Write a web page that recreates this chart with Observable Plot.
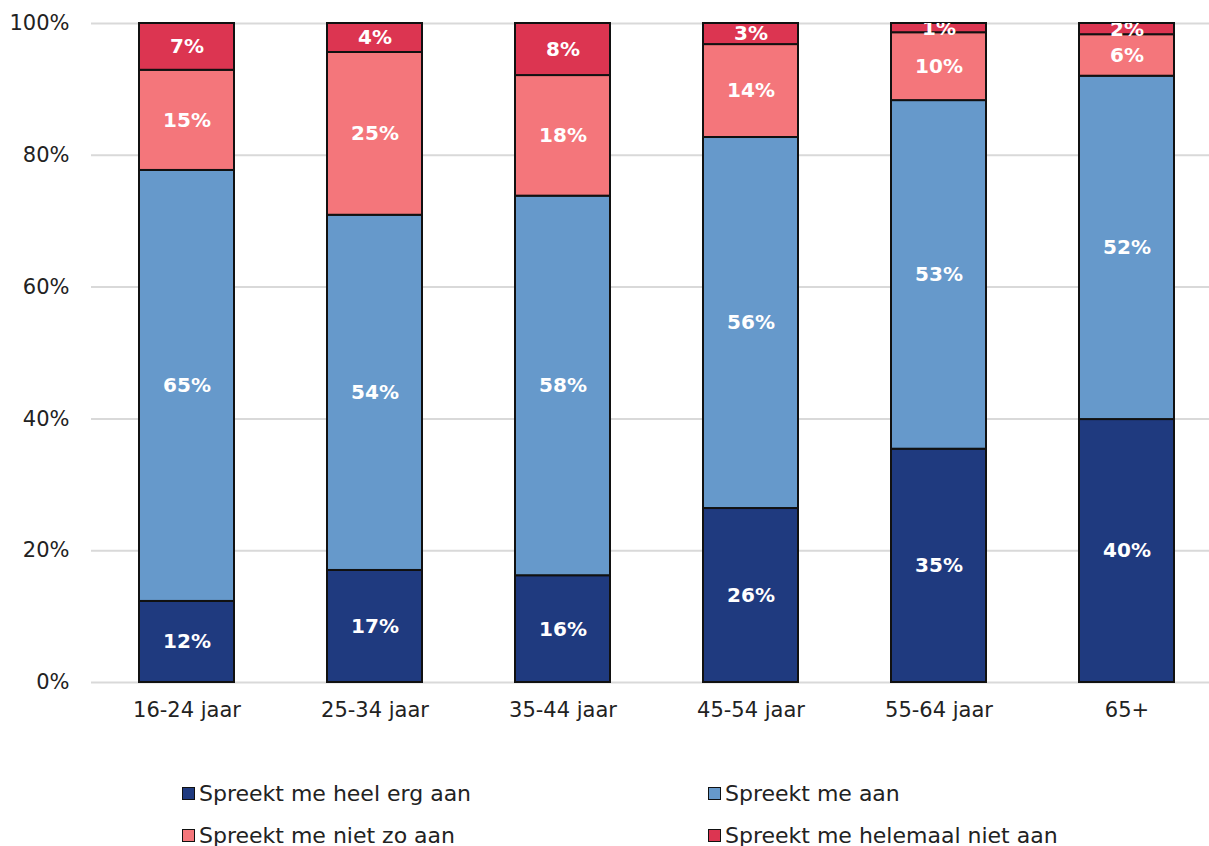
<!DOCTYPE html>
<html>
<head>
<meta charset="utf-8">
<script src="https://cdn.jsdelivr.net/npm/d3@7"></script>
<script src="https://cdn.jsdelivr.net/npm/@observablehq/plot@0.6"></script>
<style>
  html, body { margin: 0; padding: 0; background: #fff; }
  body { width: 1209px; height: 846px; overflow: hidden; font-family: "DejaVu Sans", sans-serif; }
  #chart svg { display: block; }
  #legend { position: relative; height: 106px; }
  .item { position: absolute; display: flex; align-items: center; font-size: 22px; color: #222; white-space: nowrap; }
  .sw { width: 11px; height: 11px; border: 1.5px solid #111; margin-right: 4px; }
</style>
</head>
<body>
<div id="chart"></div>
<div id="legend"></div>
<script>
const ages = ["16-24 jaar", "25-34 jaar", "35-44 jaar", "45-54 jaar", "55-64 jaar", "65+"];
const seriesNames = ["Spreekt me heel erg aan", "Spreekt me aan", "Spreekt me niet zo aan", "Spreekt me helemaal niet aan"];
const seriesColors = ["#1f3a7f", "#6699cb", "#f4767b", "#dc3551"];
const heelErg = [12.3, 17.0, 16.2, 26.4, 35.4, 39.9];
const aan = [65.4, 53.9, 57.6, 56.3, 52.9, 52.1];
const nietZo = [15.2, 24.7, 18.3, 14.1, 10.3, 6.3];
const helemaalNiet = [7.1, 4.4, 7.9, 3.2, 1.4, 1.7];
const yTicks = [0, 20, 40, 60, 80, 100];

const seriesValues = [heelErg, aan, nietZo, helemaalNiet];
const data = [];
seriesNames.forEach((s, si) => {
  ages.forEach((a, ai) => data.push({age: a, series: s, value: seriesValues[si][ai]}));
});

const W = 1209, H = 742;
const chart = Plot.plot({
  width: W,
  height: H,
  marginTop: 23,
  marginBottom: H - 682,
  marginLeft: 91,
  marginRight: 0,
  style: {fontFamily: "DejaVu Sans, sans-serif", fontSize: "21px", color: "#222", background: "#fff"},
  x: {domain: ages, range: [91, 1222.6], paddingInner: 0.496, paddingOuter: 0.248, label: null, tickSize: 0, tickPadding: 20},
  y: {domain: [0, 100], ticks: yTicks, tickFormat: d => d + "%", label: null, tickSize: 0, tickPadding: 22},
  color: {domain: seriesNames, range: seriesColors},
  marks: [
    Plot.ruleY(yTicks, {stroke: "#d9d9d9", strokeWidth: 2}),
    Plot.barY(data, {x: "age", y: "value", fill: "series", stroke: "#111", strokeWidth: 2, order: seriesNames}),
    Plot.text(data, Plot.stackY({x: "age", y: "value", z: "series", order: seriesNames,
      text: d => Math.round(d.value) + "%", fill: "white", fontWeight: "bold", fontSize: 20, clip: true}))
  ]
});
document.getElementById("chart").appendChild(chart);

const legend = document.getElementById("legend");
const pos = [[182, 793], [708, 793], [182, 835], [708, 835]];
seriesNames.forEach((s, i) => {
  const it = document.createElement("div");
  it.className = "item";
  it.style.left = pos[i][0] + "px";
  it.style.top = (pos[i][1] - H - 13) + "px";
  it.style.height = "26px";
  const sw = document.createElement("span");
  sw.className = "sw";
  sw.style.background = seriesColors[i];
  const tx = document.createElement("span");
  tx.textContent = s;
  it.appendChild(sw); it.appendChild(tx);
  legend.appendChild(it);
});
</script>
</body>
</html>
